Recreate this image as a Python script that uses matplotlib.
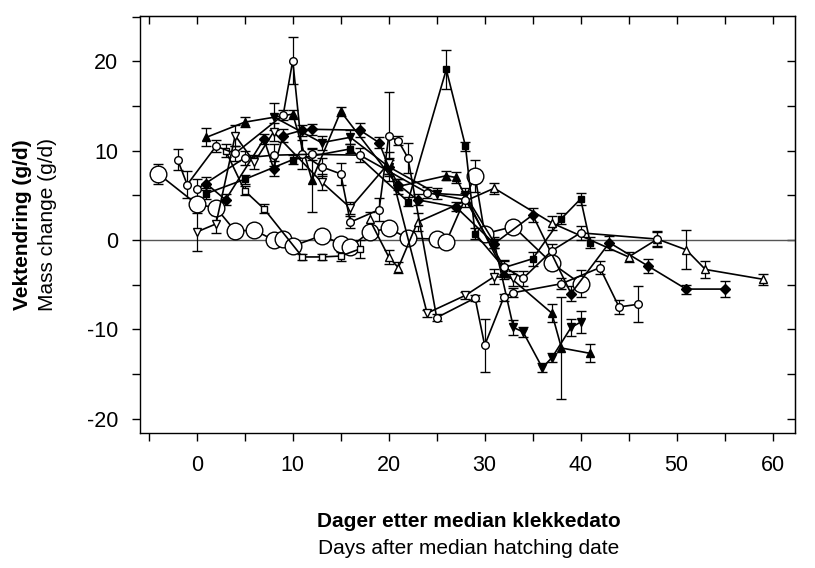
import matplotlib
matplotlib.use("Agg")
import matplotlib.pyplot as plt
from matplotlib.ticker import MultipleLocator

plt.rcParams["font.family"] = ["Liberation Sans", "DejaVu Sans"]

# large open circles
a_x = [-4, 0, 2, 4, 6, 8, 9, 10, 13, 15, 16, 18, 20, 22, 25, 26, 29, 30, 33, 37, 40]
a_y = [7.4, 4.0, 3.6, 1.0, 1.1, 0.0, 0.1, -0.7, 0.5, -0.4, -0.8, 0.9, 1.3, 0.2, 0.1, -0.2, 7.2, 0.7, 1.5, -2.6, -4.9]
a_e = [1.1, 0.6, 0.5, 0.3, 0.3, 0.3, 0.3, 0.3, 0.4, 0.5, 0.5, 0.4, 0.5, 0.5, 0.5, 0.5, 1.8, 0.5, 0.6, 0.8, 1.5]

# small open circles, series 1
b_x = [-2, -1, 2, 4, 9, 10, 11, 13, 15, 16, 19, 20, 21, 22, 25, 29, 30, 32, 33, 38, 42, 44, 46]
b_y = [9.0, 6.2, 10.5, 9.7, 14.0, 20.1, 9.6, 8.2, 7.4, 2.0, 3.4, 11.6, 11.1, 9.2, -8.7, -6.5, -11.8, -6.4, -5.9, -4.9, -3.1, -7.5, -7.2]
b_e = [1.2, 1.5, 0.7, 0.8, 0.6, 2.6, 1.6, 1.0, 1.2, 0.7, 1.3, 5.0, 0.5, 1.7, 0.4, 0.3, 3.0, 0.4, 0.5, 0.6, 0.7, 0.8, 2.0]

# small open circles, series 2
k_x = [0, 5, 8, 12, 17, 24, 28, 32, 34, 37, 40, 48]
k_y = [5.7, 9.2, 9.5, 9.6, 9.5, 5.3, 4.5, -3.0, -4.3, -1.2, 0.8, 0.1]
k_e = [1.1, 0.8, 1.2, 0.6, 0.8, 0.6, 0.8, 0.8, 0.8, 0.8, 0.8, 0.8]

# open squares
d_x = [3, 5, 7, 11, 13, 15, 17]
d_y = [10.0, 5.5, 3.5, -1.9, -1.9, -1.8, -1.0]
d_e = [0.7, 0.5, 0.5, 0.3, 0.3, 0.5, 1.0]

# filled squares
e_x = [1, 5, 10, 16, 22, 26, 28, 29, 32, 35, 38, 40, 41]
e_y = [5.2, 6.8, 9.0, 10.2, 4.3, 19.1, 10.5, 0.7, -3.1, -2.1, 2.4, 4.6, -0.3]
e_e = [0.6, 0.5, 0.5, 0.5, 0.5, 2.2, 0.5, 0.6, 0.8, 0.8, 0.6, 0.7, 0.6]

# filled diamonds
f_x = [1, 3, 7, 8, 9, 11, 12, 17, 19, 20, 21, 23, 27, 31, 35, 39, 43, 47, 51, 55]
f_y = [6.3, 4.5, 11.3, 8.0, 11.7, 12.3, 12.4, 12.3, 10.9, 8.2, 6.2, 4.5, 3.7, -0.4, 2.8, -6.0, -0.3, -2.9, -5.5, -5.5]
f_e = [0.7, 0.6, 0.6, 0.8, 0.7, 0.6, 0.6, 0.8, 0.6, 0.8, 0.6, 0.6, 0.5, 0.5, 0.8, 0.8, 0.8, 0.8, 0.5, 0.9]

# filled triangles up
g_x = [1, 5, 10, 12, 15, 21, 26, 27, 32, 37, 38, 41]
g_y = [11.5, 13.2, 14.1, 6.7, 14.4, 6.0, 7.2, 7.0, -3.6, -8.2, -12.1, -12.7]
g_e = [1.0, 0.6, 0.5, 3.6, 0.5, 0.8, 0.5, 0.6, 0.8, 1.0, 5.7, 1.0]

# filled triangles down
h_x = [8, 13, 16, 20, 25, 28, 31, 33, 34, 36, 37, 39, 40]
h_y = [13.8, 10.9, 11.5, 8.2, 5.2, 5.0, -0.3, -9.8, -10.3, -14.3, -13.2, -9.8, -9.2]
h_e = [1.5, 0.8, 0.8, 1.0, 0.6, 0.8, 0.6, 0.8, 0.6, 0.5, 0.5, 1.0, 1.2]

# open triangles down
i_x = [0, 2, 4, 6, 8, 13, 16, 20, 24, 28, 31, 33]
i_y = [0.9, 1.8, 11.7, 8.7, 12.1, 6.5, 3.6, 8.6, -8.2, -6.2, -4.1, -4.3]
i_e = [2.1, 1.0, 1.2, 0.8, 1.0, 0.9, 0.7, 1.2, 0.4, 0.4, 0.8, 0.8]

# open triangles up
j_x = [18, 20, 21, 23, 31, 37, 45, 48, 51, 53, 59]
j_y = [2.3, -1.9, -3.1, 2.0, 5.8, 1.9, -1.9, 0.1, -1.1, -3.3, -4.4]
j_e = [0.8, 0.8, 0.6, 1.0, 0.6, 0.8, 0.6, 0.9, 2.2, 1.0, 0.6]

series = [
    (a_x, a_y, a_e, "o", "white", 12),
    (d_x, d_y, d_e, "s", "white", 5),
    (e_x, e_y, e_e, "s", "black", 5),
    (f_x, f_y, f_e, "D", "black", 5),
    (g_x, g_y, g_e, "^", "black", 5.5),
    (h_x, h_y, h_e, "v", "black", 5.5),
    (i_x, i_y, i_e, "v", "white", 5.5),
    (j_x, j_y, j_e, "^", "white", 5.5),
    (b_x, b_y, b_e, "o", "white", 5.5),
    (k_x, k_y, k_e, "o", "white", 5.5),
]

fig = plt.figure(figsize=(8.15, 5.68), dpi=100)
ax = fig.add_axes([0.172, 0.238, 0.803, 0.734])

ax.axhline(0, color="#555555", lw=1.0, zorder=1)

for x, y, e, m, fc, ms in series:
    ax.errorbar(x, y, yerr=e, fmt="-", marker=m, ms=ms, mfc=fc, mec="black",
                mew=1.0, color="black", lw=1.2, ecolor="black", elinewidth=0.9,
                capsize=3.5, capthick=0.9, zorder=3)

ax.set_xlim(-5.9, 62.3)
ax.set_ylim(-21.6, 25.1)
ax.xaxis.set_major_locator(MultipleLocator(10))
ax.xaxis.set_minor_locator(MultipleLocator(5))
ax.yaxis.set_major_locator(MultipleLocator(10))
ax.yaxis.set_minor_locator(MultipleLocator(5))
ax.tick_params(axis="both", which="both", direction="out", length=6, width=1.0,
               labelsize=15.5, pad=10)
ax.set_yticks([-20, -10, 0, 10, 20])
ax.set_yticklabels(["-20", "-10", "0", "10", "20"])

# inward ticks on the top and right edges
top = ax.secondary_xaxis("top")
top.set_xticks(range(-5, 61, 5))
top.tick_params(direction="in", length=6, width=1.0, labeltop=False)
right = ax.secondary_yaxis("right")
right.set_yticks(range(-20, 25, 5))
right.tick_params(direction="in", length=6, width=1.0, labelright=False)

for sp in ax.spines.values():
    sp.set_linewidth(1.0)

fig.text(0.028, 0.604, "Vektendring (g/d)", rotation=90, ha="center", va="center",
         fontsize=15, fontweight="bold")
fig.text(0.058, 0.604, "Mass change (g/d)", rotation=90, ha="center", va="center",
         fontsize=15)
fig.text(0.575, 0.081, "Dager etter median klekkedato", ha="center", va="center",
         fontsize=15, fontweight="bold")
fig.text(0.575, 0.035, "Days after median hatching date", ha="center", va="center",
         fontsize=15)

fig.savefig("out.png", dpi=100)
